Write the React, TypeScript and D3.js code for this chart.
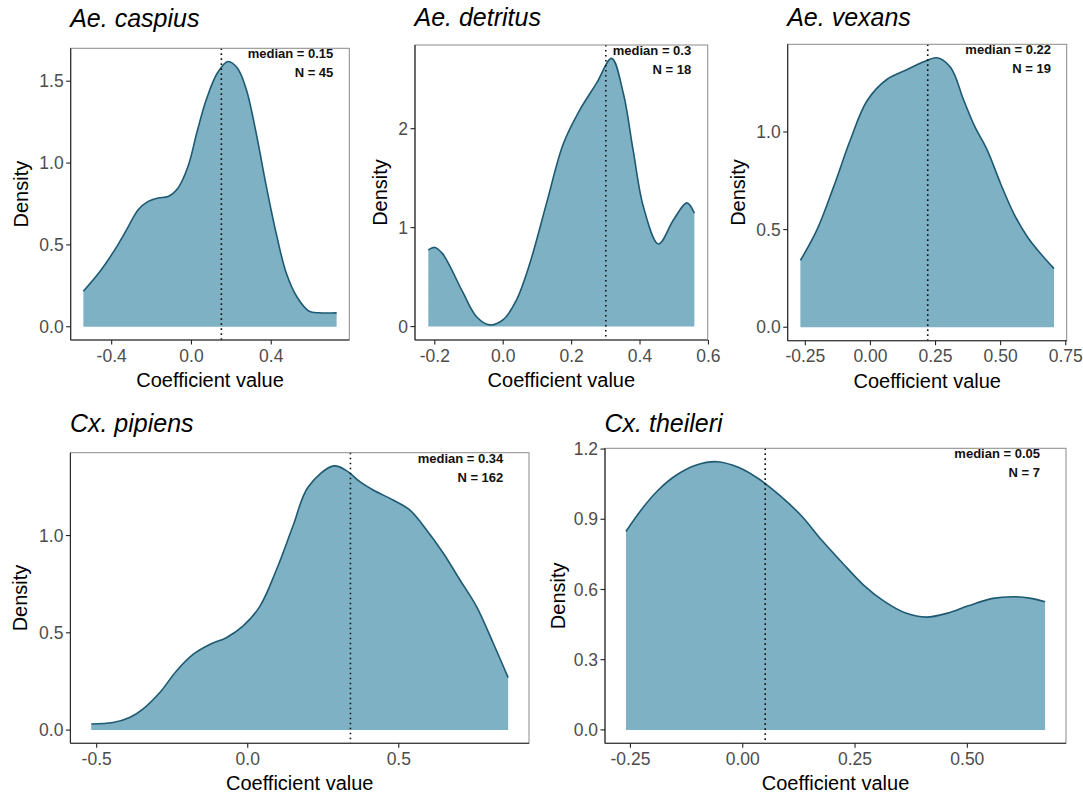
import React from "react";
import * as d3 from "d3";

// ---- data ----
const speciesNames = ["Ae. caspius", "Ae. detritus", "Ae. vexans", "Cx. pipiens", "Cx. theileri"];
const medians = [0.15, 0.3, 0.22, 0.34, 0.05];
const sampleSizes = [45, 18, 19, 162, 7];

const caspiusX = [-0.542, -0.458, -0.384, -0.325, -0.267, -0.217, -0.167, -0.117, -0.067, -0.017, 0.03, 0.075, 0.13, 0.183, 0.23, 0.275, 0.325, 0.375, 0.425, 0.475, 0.53, 0.59, 0.64, 0.728];
const caspiusY = [0.217, 0.339, 0.471, 0.593, 0.715, 0.766, 0.787, 0.796, 0.848, 0.98, 1.2, 1.39, 1.55, 1.62, 1.58, 1.45, 1.18, 0.86, 0.57, 0.33, 0.18, 0.095, 0.085, 0.085];

const detritusX = [-0.219, -0.2, -0.178, -0.156, -0.117, -0.078, -0.039, 0.0, 0.039, 0.078, 0.127, 0.176, 0.224, 0.273, 0.317, 0.351, 0.38, 0.41, 0.454, 0.498, 0.537, 0.559];
const detritusY = [0.775, 0.8, 0.74, 0.61, 0.34, 0.1, 0.017, 0.07, 0.27, 0.64, 1.25, 1.85, 2.19, 2.46, 2.71, 2.36, 1.78, 1.21, 0.835, 1.08, 1.25, 1.145];

const vexansX = [-0.269, -0.205, -0.141, -0.077, -0.013, 0.064, 0.141, 0.205, 0.256, 0.308, 0.359, 0.4, 0.449, 0.5, 0.551, 0.603, 0.654, 0.705];
const vexansY = [0.342, 0.5, 0.72, 0.96, 1.16, 1.27, 1.32, 1.36, 1.38, 1.33, 1.16, 1.03, 0.906, 0.735, 0.581, 0.462, 0.376, 0.3];

const pipiensX = [-0.518, -0.446, -0.391, -0.347, -0.291, -0.236, -0.181, -0.126, -0.071, -0.016, 0.04, 0.095, 0.15, 0.2, 0.285, 0.33, 0.371, 0.415, 0.481, 0.536, 0.592, 0.647, 0.702, 0.757, 0.812, 0.862];
const pipiensY = [0.031, 0.039, 0.065, 0.108, 0.193, 0.304, 0.389, 0.44, 0.475, 0.534, 0.636, 0.824, 1.05, 1.25, 1.358, 1.33, 1.277, 1.234, 1.183, 1.132, 1.029, 0.91, 0.773, 0.636, 0.449, 0.27];

const theileriX = [-0.26, -0.227, -0.189, -0.15, -0.103, -0.057, -0.01, 0.036, 0.083, 0.13, 0.176, 0.223, 0.269, 0.316, 0.363, 0.409, 0.456, 0.502, 0.557, 0.603, 0.642, 0.673];
const theileriY = [0.848, 0.938, 1.023, 1.086, 1.132, 1.146, 1.122, 1.072, 1.001, 0.916, 0.81, 0.711, 0.619, 0.548, 0.499, 0.482, 0.499, 0.53, 0.562, 0.569, 0.562, 0.548];

const xTicks = [
  [-0.4, 0.0, 0.4],
  [-0.2, 0.0, 0.2, 0.4, 0.6],
  [-0.25, 0.0, 0.25, 0.5, 0.75],
  [-0.5, 0.0, 0.5],
  [-0.25, 0.0, 0.25, 0.5],
];
const yTicks = [
  [0.0, 0.5, 1.0, 1.5],
  [0, 1, 2],
  [0.0, 0.5, 1.0],
  [0.0, 0.5, 1.0],
  [0.0, 0.3, 0.6, 0.9, 1.2],
];
const xFormats = [".1f", ".1f", ".2f", ".1f", ".2f"];
const yFormats = [".1f", ".0f", ".1f", ".1f", ".1f"];

const seriesX = [caspiusX, detritusX, vexansX, pipiensX, theileriX];
const seriesY = [caspiusY, detritusY, vexansY, pipiensY, theileriY];

// ---- layout (panel boxes in page px) ----
const layout = [
  { left: 70.7, right: 349.3, top: 48.3, bottom: 340, annoRight: 16, yLabelX: 28, titleY: 26.5 },
  { left: 415, right: 707.7, top: 45, bottom: 340, annoRight: 16.5, yLabelX: 387, titleY: 25.5 },
  { left: 787.7, right: 1066.7, top: 44.3, bottom: 340.7, annoRight: 15.7, yLabelX: 745, titleY: 26 },
  { left: 70.4, right: 529, top: 452.7, bottom: 743.3, annoRight: 25.7, yLabelX: 27, titleY: 431.5 },
  { left: 605, right: 1066, top: 448.3, bottom: 743.3, annoRight: 26, yLabelX: 565, titleY: 431.5 },
];

const FONT = "'Liberation Sans', Arial, Helvetica, sans-serif";
const FILL = "#7fb1c5";
const LINE = "#1d5a72";
const fmtMinus = (s: string) => s.replace("\u2212", "-");

function Panel({ i }: { i: number }) {
  const L = layout[i];
  const xs = seriesX[i];
  const ys = seriesY[i];
  const [xmin, xmax] = d3.extent(xs) as [number, number];
  const ymax = d3.max(ys) as number;
  const xr = xmax - xmin;
  const x = d3.scaleLinear().domain([xmin - 0.05 * xr, xmax + 0.05 * xr]).range([L.left, L.right]);
  const y = d3.scaleLinear().domain([-0.05 * ymax, ymax * 1.05]).range([L.bottom, L.top]);
  const pts = xs.map((v, k) => [v, ys[k]] as [number, number]);
  const curve = d3.curveCatmullRom.alpha(0.5);
  const area = d3.area<[number, number]>().x(d => x(d[0])).y0(y(0)).y1(d => y(d[1])).curve(curve);
  const line = d3.line<[number, number]>().x(d => x(d[0])).y(d => y(d[1])).curve(curve);
  const xf = d3.format(xFormats[i]);
  const yf = d3.format(yFormats[i]);
  const cx = (L.left + L.right) / 2;
  const cy = (L.top + L.bottom) / 2;
  return (
    <g>
      <text x={L.left - 0.5} y={L.titleY} fontFamily={FONT} fontStyle="italic" fontSize={25} fill="#000">
        {speciesNames[i]}
      </text>
      <path d={area(pts) || ""} fill={FILL} />
      <path d={line(pts) || ""} fill="none" stroke={LINE} strokeWidth={1.6} />
      <line x1={x(medians[i])} x2={x(medians[i])} y1={L.top} y2={L.bottom} stroke="#111" strokeWidth={1.6} strokeDasharray="1.6 3.4" />
      <text x={L.right - L.annoRight} y={L.top + 10} textAnchor="end" fontFamily={FONT} fontWeight="bold" fontSize={13} fill="#111">
        {`median = ${medians[i]}`}
      </text>
      <text x={L.right - L.annoRight} y={L.top + 28.8} textAnchor="end" fontFamily={FONT} fontWeight="bold" fontSize={13} fill="#111">
        {`N = ${sampleSizes[i]}`}
      </text>
      <rect x={L.left} y={L.top} width={L.right - L.left} height={L.bottom - L.top} fill="none" stroke="#8a8a8a" strokeWidth={1} />
      <line x1={L.left} x2={L.left} y1={L.top} y2={L.bottom} stroke="#222" strokeWidth={1.1} />
      <line x1={L.left} x2={L.right} y1={L.bottom} y2={L.bottom} stroke="#222" strokeWidth={1.1} />
      {xTicks[i].map(t => (
        <g key={"x" + t}>
          <line x1={x(t)} x2={x(t)} y1={L.bottom} y2={L.bottom + 4.5} stroke="#222" strokeWidth={1.1} />
          <text x={x(t)} y={L.bottom + 21.5} textAnchor="middle" fontFamily={FONT} fontSize={17.5} fill="#4d4d4d">
            {fmtMinus(xf(t))}
          </text>
        </g>
      ))}
      {yTicks[i].map(t => (
        <g key={"y" + t}>
          <line x1={L.left - 4.5} x2={L.left} y1={y(t)} y2={y(t)} stroke="#222" strokeWidth={1.1} />
          <text x={L.left - 7} y={y(t) + 6.2} textAnchor="end" fontFamily={FONT} fontSize={17.5} fill="#4d4d4d">
            {fmtMinus(yf(t))}
          </text>
        </g>
      ))}
      <text x={cx} y={L.bottom + 47} textAnchor="middle" fontFamily={FONT} fontSize={20} fill="#000">
        Coefficient value
      </text>
      <text transform={`translate(${L.yLabelX},${cy}) rotate(-90)`} textAnchor="middle" fontFamily={FONT} fontSize={20} fill="#000">
        Density
      </text>
    </g>
  );
}

export default function App() {
  return (
    <svg width={1083} height={798} style={{ position: "absolute", left: 0, top: 0, background: "#fff" }}>
      <rect width={1083} height={798} fill="#fff" />
      {speciesNames.map((_, i) => (
        <Panel key={i} i={i} />
      ))}
    </svg>
  );
}
